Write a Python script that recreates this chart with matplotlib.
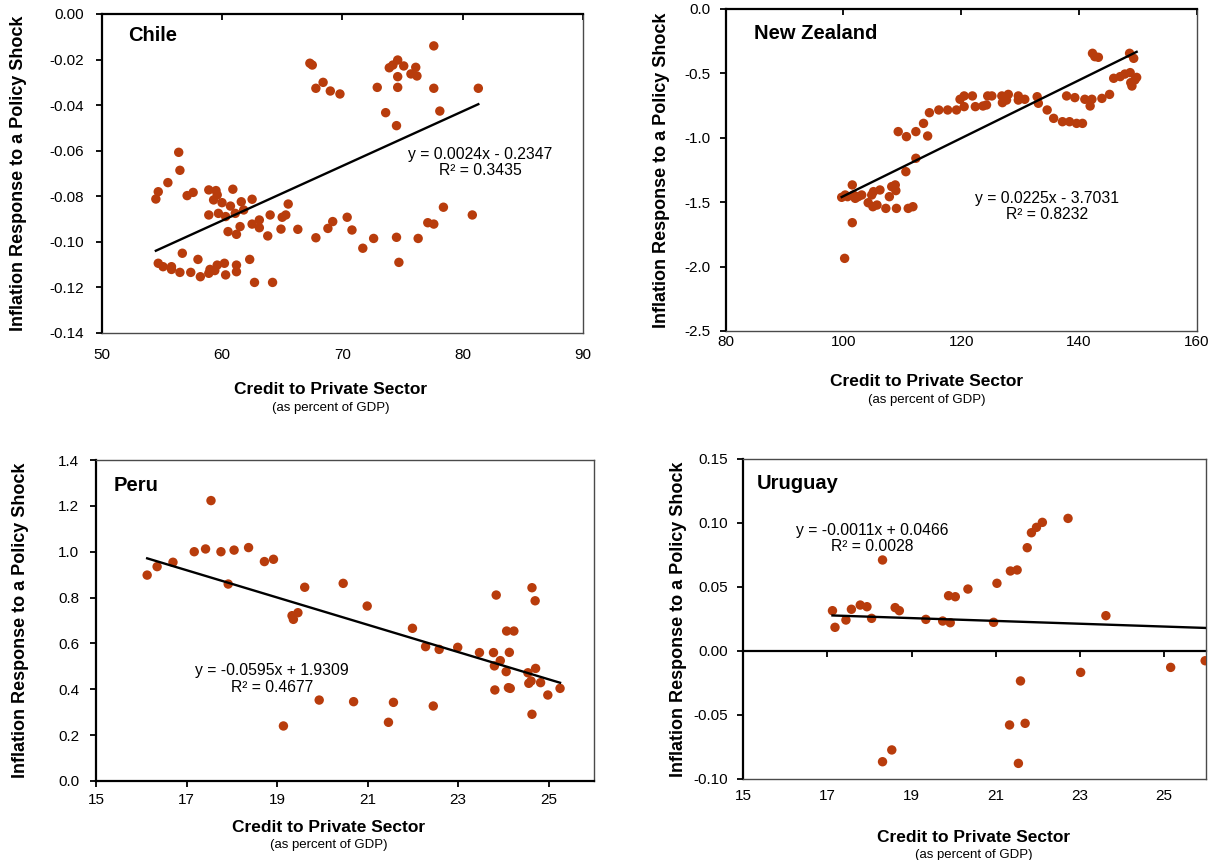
import numpy as np
import matplotlib
matplotlib.use("Agg")
import matplotlib.pyplot as plt
from matplotlib.ticker import FormatStrFormatter

plt.rcParams['font.family'] = ['Liberation Sans', 'DejaVu Sans']
plt.rcParams['axes.unicode_minus'] = False

# ---------------- data ----------------
chile_x = [67.3, 67.5, 67.8, 68.4, 69.0, 69.8, 72.9, 73.6, 73.9, 74.2, 74.6, 75.1, 74.6, 74.6,
           74.5, 75.7, 76.1, 76.2, 77.6, 77.6, 78.1, 81.3,
           56.4, 56.5, 55.5, 54.7, 54.5, 57.1, 57.6, 58.9, 59.5, 59.3, 59.6, 60.9, 60.0, 60.7,
           61.6, 61.8, 62.5, 58.9, 59.7, 60.3, 61.1, 60.5, 61.2, 61.5, 62.5, 63.1, 63.1, 64.0,
           63.8, 64.9, 65.0, 65.3, 65.5, 66.3, 67.8, 68.8, 69.2, 70.4, 70.8, 71.7, 72.6, 74.5,
           74.7, 76.3, 77.1, 77.6, 78.4, 80.8,
           54.7, 55.1, 55.8, 55.8, 56.5, 56.7, 57.4, 58.0, 58.2, 58.9, 59.0, 59.4, 59.6, 60.2,
           60.3, 61.2, 61.2, 62.3, 62.7, 64.2]
chile_y = [-0.0216, -0.0224, -0.0326, -0.0300, -0.0338, -0.0351, -0.0322, -0.0433, -0.0236,
           -0.0224, -0.0202, -0.0228, -0.0275, -0.0322, -0.0490, -0.0263, -0.0234, -0.0272,
           -0.0140, -0.0326, -0.0426, -0.0326,
           -0.0607, -0.0686, -0.0740, -0.0780, -0.0812, -0.0797, -0.0783, -0.0772, -0.0775,
           -0.0816, -0.0794, -0.0769, -0.0828, -0.0843, -0.0824, -0.0860, -0.0813, -0.0882,
           -0.0875, -0.0889, -0.0875, -0.0955, -0.0967, -0.0933, -0.0922, -0.0904, -0.0938,
           -0.0882, -0.0974, -0.0944, -0.0892, -0.0882, -0.0834, -0.0945, -0.0982, -0.0941,
           -0.0911, -0.0892, -0.0948, -0.1028, -0.0985, -0.0980, -0.1090, -0.0985, -0.0916,
           -0.0922, -0.0848, -0.0882,
           -0.1094, -0.1109, -0.1109, -0.1121, -0.1134, -0.1050, -0.1134, -0.1077, -0.1153,
           -0.1138, -0.1121, -0.1126, -0.1102, -0.1094, -0.1145, -0.1102, -0.1131, -0.1077,
           -0.1178, -0.1178]
chile_fit = (0.0024, -0.2347)
chile_r2 = 0.3435

nz_x = [99.7, 100.3, 100.7, 101.5, 101.7, 102.0, 102.5, 103.1, 104.2, 104.8, 105.1, 105.0,
        105.7, 106.2, 107.2, 107.8, 108.2, 108.8, 108.9, 109.0, 109.3, 110.7, 110.6, 111.0,
        111.8, 112.3, 112.3, 113.6, 114.3, 114.6, 116.2, 117.7, 119.2, 119.8, 120.5, 120.5,
        121.9, 122.4, 123.7, 124.3, 124.5, 125.2, 126.9, 127.0, 128.0, 127.7, 129.7, 129.7,
        130.8, 132.9, 133.1, 134.6, 135.7, 137.2, 137.9, 138.4, 139.3, 139.6, 140.6, 141.0,
        141.9, 142.2, 142.3, 142.7, 143.3, 143.9, 145.2, 145.9, 147.0, 147.8, 148.7, 148.6,
        148.8, 149.0, 149.3, 149.5, 149.8, 101.5, 100.2]
nz_y = [-1.462, -1.444, -1.457, -1.366, -1.444, -1.470, -1.457, -1.444, -1.504, -1.444,
        -1.418, -1.535, -1.522, -1.405, -1.548, -1.457, -1.379, -1.366, -1.410, -1.548,
        -0.952, -0.991, -1.263, -1.548, -1.535, -1.159, -0.952, -0.888, -0.986, -0.805,
        -0.784, -0.784, -0.784, -0.701, -0.675, -0.758, -0.675, -0.758, -0.753, -0.745,
        -0.675, -0.675, -0.675, -0.727, -0.663, -0.707, -0.675, -0.707, -0.701, -0.681,
        -0.732, -0.784, -0.849, -0.875, -0.675, -0.875, -0.688, -0.888, -0.888, -0.701,
        -0.753, -0.701, -0.344, -0.370, -0.375, -0.694, -0.663, -0.538, -0.525, -0.505,
        -0.494, -0.344, -0.572, -0.598, -0.383, -0.551, -0.531, -1.659, -1.936]
nz_fit = (0.0225, -3.7031)
nz_r2 = 0.8232

peru_x = [16.13, 16.35, 16.70, 17.17, 17.42, 17.54, 17.76, 17.92, 18.05, 18.37, 18.72, 18.92,
          19.14, 19.33, 19.36, 19.46, 19.61, 19.93, 20.46, 20.69, 20.99, 21.46, 21.57, 21.99,
          22.28, 22.45, 22.58, 22.99, 23.47, 23.78, 23.84, 23.80, 23.81, 23.93, 24.06, 24.07,
          24.23, 24.13, 24.11, 24.15, 24.54, 24.56, 24.61, 24.63, 24.70, 24.71, 24.63, 24.82,
          24.98, 25.25]
peru_y = [0.898, 0.935, 0.954, 1.000, 1.012, 1.223, 1.000, 0.859, 1.007, 1.018, 0.957, 0.967,
          0.240, 0.721, 0.705, 0.734, 0.845, 0.353, 0.862, 0.346, 0.763, 0.256, 0.343, 0.666,
          0.586, 0.327, 0.574, 0.583, 0.560, 0.560, 0.811, 0.502, 0.397, 0.525, 0.477, 0.654,
          0.654, 0.561, 0.407, 0.404, 0.472, 0.426, 0.436, 0.843, 0.786, 0.491, 0.291, 0.429,
          0.375, 0.404]
peru_fit = (-0.0595, 1.9309)
peru_r2 = 0.4677

uru_x = [17.12, 17.18, 17.44, 17.57, 17.78, 17.94, 18.05, 18.31, 18.61, 18.71, 19.34, 19.74,
         19.92, 19.88, 20.04, 20.34, 20.95, 21.03, 21.35, 21.51, 21.75, 21.85, 21.97, 22.11,
         22.72, 23.62, 23.02, 25.16, 25.98, 21.59, 21.33, 21.70, 21.54, 18.31, 18.53]
uru_y = [0.0315, 0.0185, 0.0242, 0.0326, 0.0359, 0.0346, 0.0255, 0.0711, 0.0339, 0.0315,
         0.0247, 0.0234, 0.0221, 0.0432, 0.0424, 0.0484, 0.0224, 0.0529, 0.0625, 0.0633,
         0.0807, 0.0924, 0.0966, 0.1005, 0.1036, 0.0276, -0.0167, -0.0128, -0.0076, -0.0234,
         -0.0578, -0.0565, -0.0878, -0.0865, -0.0773]
uru_fit = (-0.0011, 0.0466)
uru_r2 = 0.0028

# ---------------- figure ----------------
W, H = 1220, 860
fig = plt.figure(figsize=(W / 100, H / 100), dpi=100)
MARKER = '#B83C0C'
FRAME = '#4a4a4a'
TICK_FS = 11


def px_axes(l, t, r, b):
    return fig.add_axes([l / W, 1 - b / H, (r - l) / W, (b - t) / H])


def fmt_eq(slope, icpt):
    s_sign = '-' if slope < 0 else ''
    i_sign = '-' if icpt < 0 else '+'
    return f"y = {s_sign}{abs(slope):.4f}x {i_sign} {abs(icpt):.4f}"


def panel(box, x, y, fit, r2, name, xlim, xticks, ylim, yticks, yfmt,
          axis_at_top, name_pos, eq_pos, ylab_x, xlab_y, xlab_x, xpad, ypad):
    ax = px_axes(*box)
    ax.scatter(x, y, s=46, color=MARKER, edgecolors='none', zorder=3)
    xs = np.array([min(x), max(x)])
    ax.plot(xs, fit[0] * xs + fit[1], color='black', lw=1.7, zorder=4)
    ax.set_xlim(*xlim)
    ax.set_ylim(*ylim)
    ax.set_xticks(xticks)
    ax.set_yticks(yticks)
    ax.yaxis.set_major_formatter(FormatStrFormatter(yfmt))
    ax.xaxis.set_major_formatter(FormatStrFormatter('%d'))
    for s in ax.spines.values():
        s.set_linewidth(1.0)
        s.set_color(FRAME)
    ax.spines['left'].set_linewidth(1.6)
    ax.spines['left'].set_color('black')
    ax.tick_params(axis='y', direction='out', length=4, width=1.3, pad=ypad,
                   labelsize=TICK_FS)
    if axis_at_top == 'top':
        ax.spines['top'].set_linewidth(1.6)
        ax.spines['top'].set_color('black')
        ax.tick_params(axis='x', top=True, bottom=False, direction='in', length=4,
                       width=1.3, pad=xpad, labelsize=TICK_FS)
    elif axis_at_top == 'bottom':
        ax.spines['bottom'].set_linewidth(1.6)
        ax.spines['bottom'].set_color('black')
        ax.tick_params(axis='x', direction='out', length=4, width=1.3, pad=xpad,
                       labelsize=TICK_FS)
    else:
        ax.tick_params(axis='x', length=0, pad=xpad, labelsize=TICK_FS)
        loc = (0 - ylim[0]) / (ylim[1] - ylim[0])
        sec = ax.secondary_xaxis(loc)
        sec.set_xticks(xticks)
        sec.tick_params(axis='x', direction='out', length=4, width=1.3,
                        labelbottom=False, labeltop=False)
        for s in sec.spines.values():
            s.set_linewidth(1.6)
            s.set_color('black')
    ax.text(name_pos[0], name_pos[1], name, transform=ax.transAxes, ha='left',
            va='center', fontsize=14.5, fontweight='bold')
    ax.text(eq_pos[0], eq_pos[1], fmt_eq(*fit) + "\nR² = " + f"{r2:.4f}",
            transform=ax.transAxes, ha='center', va='center', multialignment='center',
            fontsize=11.3, linespacing=1.12)
    cy = (box[1] + box[3]) / 2
    fig.text(ylab_x / W, 1 - cy / H, 'Inflation Response to a Policy Shock', rotation=90,
             ha='center', va='center', fontsize=13, fontweight='bold')
    fig.text(xlab_x / W, 1 - xlab_y / H, 'Credit to Private Sector', ha='center',
             va='center', fontsize=12.5, fontweight='bold')
    fig.text(xlab_x / W, 1 - (xlab_y + 18) / H, '(as percent of GDP)', ha='center',
             va='center', fontsize=9.5)
    return ax


panel((101.7, 14, 583, 333), chile_x, chile_y, chile_fit, chile_r2, 'Chile',
      (50, 90), [50, 60, 70, 80, 90], (-0.14, 0.0), np.arange(-0.14, 0.001, 0.02), '%.2f',
      'top', (0.055, 0.932), (0.786, 0.535), 18.5, 390, 331, 11, 9)

panel((725.7, 9, 1196.7, 331), nz_x, nz_y, nz_fit, nz_r2, 'New Zealand',
      (80, 160), [80, 100, 120, 140, 160], (-2.5, 0.0), np.arange(-2.5, 0.01, 0.5), '%.1f',
      'top', (0.061, 0.925), (0.683, 0.386), 661, 382, 927, 3, 7)

panel((96, 460, 594, 781), peru_x, peru_y, peru_fit, peru_r2, 'Peru',
      (15, 26), [15, 17, 19, 21, 23, 25], (0.0, 1.4), np.arange(0, 1.41, 0.2), '%.1f',
      'bottom', (0.035, 0.92), (0.353, 0.318), 21, 827, 329, 4.5, 8)

panel((743.3, 459, 1206, 779), uru_x, uru_y, uru_fit, uru_r2, 'Uruguay',
      (15, 26), [15, 17, 19, 21, 23, 25], (-0.10, 0.15), np.arange(-0.10, 0.151, 0.05), '%.2f',
      'zero', (0.029, 0.924), (0.278, 0.751), 678.5, 837, 974, 7.5, 7)

fig.savefig('out.png', dpi=100)
